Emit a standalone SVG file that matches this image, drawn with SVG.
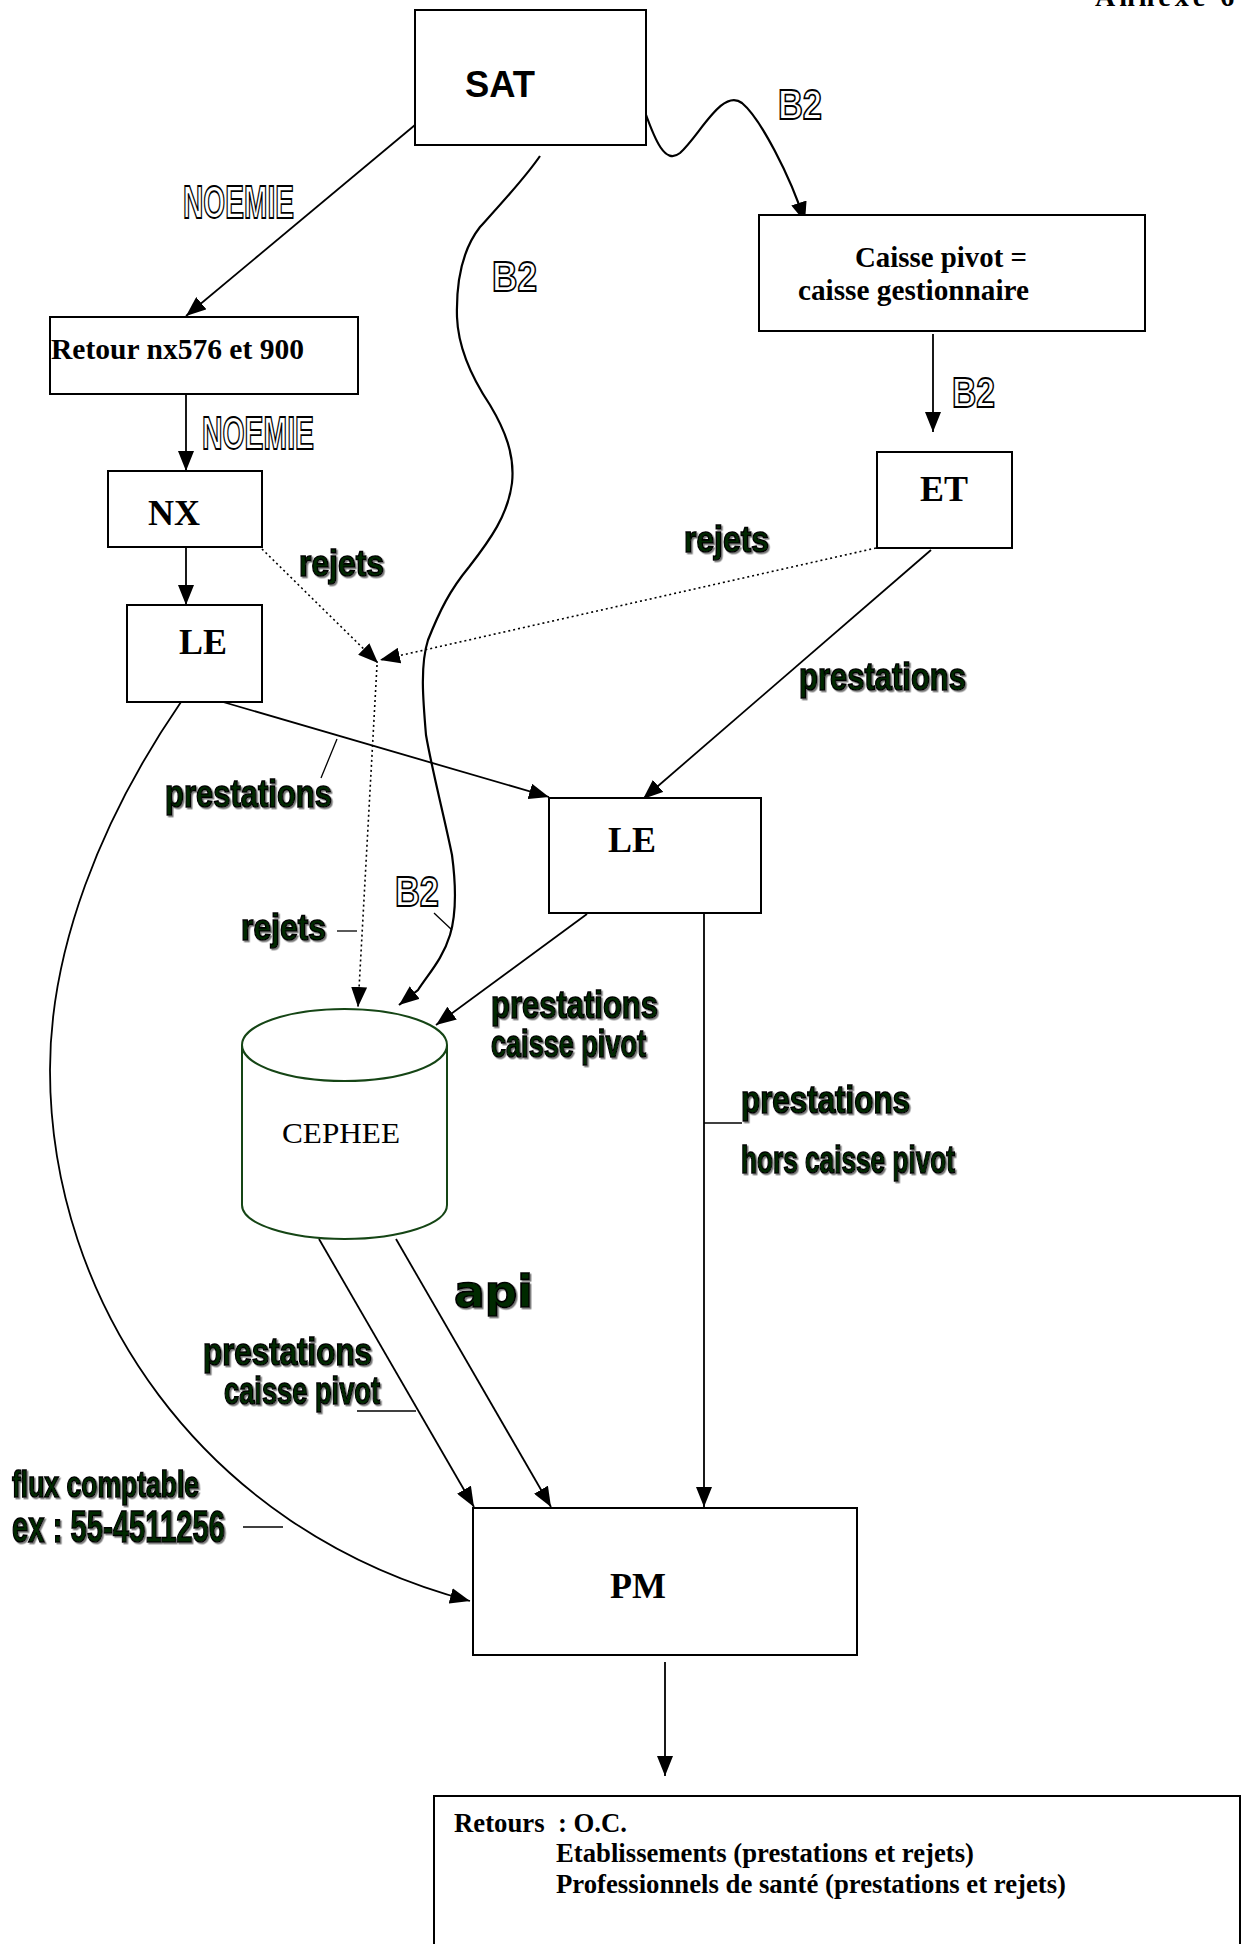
<svg xmlns="http://www.w3.org/2000/svg" width="1242" height="1944" viewBox="0 0 1242 1944">
<style>
.box{fill:#fff;stroke:#000;stroke-width:2}
.lbl{font-family:"Liberation Serif",serif;font-weight:bold;fill:#000}
.reg{font-family:"Liberation Serif",serif;fill:#000}
.out{font-family:"Liberation Sans",Arial,sans-serif;font-weight:bold;fill:#fff;stroke:#000;stroke-width:1.8}
.wa{font-family:"Liberation Sans",Arial,sans-serif;font-weight:bold;fill:#042a04;stroke:#000;stroke-width:1.6;filter:url(#sh)}
.ln{fill:none;stroke:#000;stroke-width:1.8}
.thin{fill:none;stroke:#000;stroke-width:1.3}
.dot{fill:none;stroke:#000;stroke-width:1.6;stroke-dasharray:2 3}
.wav{fill:none;stroke:#000;stroke-width:2.2}
</style>
<defs>
<marker id="ah" viewBox="0 0 20 16" refX="20" refY="8" markerWidth="20" markerHeight="16" markerUnits="userSpaceOnUse" orient="auto">
<path d="M0,0 L20,8 L0,16 z" fill="#000"/>
</marker>
<filter id="sh" x="-10%" y="-10%" width="130%" height="140%">
<feDropShadow dx="1.5" dy="1.5" stdDeviation="0.6" flood-color="#777"/>
</filter>
</defs>
<rect width="1242" height="1944" fill="#fff"/>

<text class="lbl" x="1095" y="6" font-size="28" letter-spacing="4">Annexe 6</text>

<g id="connectors">
<line class="ln" x1="415" y1="125" x2="186" y2="316" marker-end="url(#ah)"/>
<line class="ln" x1="186" y1="394" x2="186" y2="471" marker-end="url(#ah)"/>
<line class="ln" x1="186" y1="547" x2="186" y2="605" marker-end="url(#ah)"/>
<path class="wav" d="M645,112 C655,140 665,165 680,153 C700,135 722,88 742,103 C760,118 790,175 805,222" marker-end="url(#ah)"/>
<line class="ln" x1="933" y1="334" x2="933" y2="432" marker-end="url(#ah)"/>
<line class="dot" x1="262" y1="549" x2="378" y2="663" marker-end="url(#ah)"/>
<line class="dot" x1="876" y1="548" x2="380" y2="660" marker-end="url(#ah)"/>
<line class="dot" x1="377" y1="665" x2="358" y2="1007" marker-end="url(#ah)"/>
<line class="ln" x1="931" y1="550" x2="643" y2="799" marker-end="url(#ah)"/>
<line class="ln" x1="223" y1="702" x2="549" y2="797" marker-end="url(#ah)"/>
<path class="wav" d="M540,156 C525,178 500,205 480,227 C462,250 456,280 457,317 C458,345 470,375 490,405 C505,430 515,455 512,483 C508,515 490,540 469,567 C450,590 440,610 428,640 C420,665 423,700 426,735 C432,770 445,820 452,855 C456,885 456,915 450,935 C443,958 430,972 418,990 L399,1005" marker-end="url(#ah)"/>
<line class="ln" x1="587" y1="914" x2="436" y2="1025" marker-end="url(#ah)"/>
<line class="ln" x1="704" y1="913" x2="704" y2="1507" marker-end="url(#ah)"/>
<line class="ln" x1="319" y1="1239" x2="474" y2="1507" marker-end="url(#ah)"/>
<line class="ln" x1="396" y1="1239" x2="551" y2="1507" marker-end="url(#ah)"/>
<path class="ln" d="M181,702 C100,820 50,950 50,1070 C50,1300 200,1530 470,1601" marker-end="url(#ah)"/>
<line class="ln" x1="665" y1="1662" x2="665" y2="1776" marker-end="url(#ah)"/>
<line class="thin" x1="337" y1="739" x2="321" y2="778"/>
<line class="thin" x1="337" y1="931" x2="357" y2="931"/>
<line class="thin" x1="434" y1="913" x2="452" y2="930"/>
<line class="thin" x1="704" y1="1123" x2="742" y2="1123"/>
<line class="thin" x1="357" y1="1411" x2="416" y2="1411"/>
<line class="thin" x1="243" y1="1527" x2="283" y2="1527"/>
</g>

<g id="labels">
<text class="out" x="183" y="218" font-size="46" textLength="111" lengthAdjust="spacingAndGlyphs">NOEMIE</text>
<text class="out" x="202" y="449" font-size="46" textLength="112" lengthAdjust="spacingAndGlyphs">NOEMIE</text>
<text class="out" x="778" y="119" font-size="43" textLength="44" lengthAdjust="spacingAndGlyphs">B2</text>
<text class="out" x="492" y="291" font-size="43" textLength="45" lengthAdjust="spacingAndGlyphs">B2</text>
<text class="out" x="395" y="906" font-size="43" textLength="44" lengthAdjust="spacingAndGlyphs">B2</text>
<text class="out" x="952" y="407" font-size="43" textLength="43" lengthAdjust="spacingAndGlyphs">B2</text>
<text class="wa" x="299" y="576" font-size="37" textLength="85" lengthAdjust="spacingAndGlyphs">rejets</text>
<text class="wa" x="684" y="552" font-size="37" textLength="85" lengthAdjust="spacingAndGlyphs">rejets</text>
<text class="wa" x="241" y="940" font-size="37" textLength="85" lengthAdjust="spacingAndGlyphs">rejets</text>
<text class="wa" x="799" y="690" font-size="39" textLength="167" lengthAdjust="spacingAndGlyphs">prestations</text>
<text class="wa" x="165" y="807" font-size="39" textLength="167" lengthAdjust="spacingAndGlyphs">prestations</text>
<text class="wa" x="491" y="1018" font-size="39" textLength="167" lengthAdjust="spacingAndGlyphs">prestations</text>
<text class="wa" x="491" y="1057" font-size="39" textLength="155" lengthAdjust="spacingAndGlyphs">caisse pivot</text>
<text class="wa" x="741" y="1113" font-size="39" textLength="169" lengthAdjust="spacingAndGlyphs">prestations</text>
<text class="wa" x="741" y="1173" font-size="39" textLength="214" lengthAdjust="spacingAndGlyphs">hors caisse pivot</text>
<text class="wa" x="203" y="1365" font-size="39" textLength="169" lengthAdjust="spacingAndGlyphs">prestations</text>
<text class="wa" x="224" y="1404" font-size="39" textLength="156" lengthAdjust="spacingAndGlyphs">caisse pivot</text>
<text class="wa" x="454" y="1307" font-size="44" textLength="79" lengthAdjust="spacingAndGlyphs" style="font-family:'DejaVu Sans',sans-serif">api</text>
<text class="wa" x="12" y="1497" font-size="37" textLength="187" lengthAdjust="spacingAndGlyphs">flux comptable</text>
<text class="wa" x="12" y="1542" font-size="45" textLength="213" lengthAdjust="spacingAndGlyphs">ex : 55-4511256</text>
</g>

<g id="sat">
<rect class="box" x="415" y="10" width="231" height="135"/>
<text x="465" y="97" font-size="37" textLength="70" lengthAdjust="spacingAndGlyphs" style="font-family:'Liberation Sans',Arial,sans-serif;font-weight:bold">SAT</text>
</g>
<g id="retour">
<rect class="box" x="50" y="317" width="308" height="77"/>
<text class="lbl" x="51" y="359" font-size="30" textLength="253" lengthAdjust="spacingAndGlyphs">Retour nx576 et 900</text>
</g>
<g id="nx">
<rect class="box" x="108" y="471" width="154" height="76"/>
<text class="lbl" x="148" y="525" font-size="36">NX</text>
</g>
<g id="le1">
<rect class="box" x="127" y="605" width="135" height="97"/>
<text class="lbl" x="179" y="654" font-size="36">LE</text>
</g>
<g id="caisse">
<rect class="box" x="759" y="215" width="386" height="116"/>
<text class="lbl" x="855" y="267" font-size="29" textLength="172" lengthAdjust="spacingAndGlyphs">Caisse pivot =</text>
<text class="lbl" x="798" y="300" font-size="29" textLength="231" lengthAdjust="spacingAndGlyphs">caisse gestionnaire</text>
</g>
<g id="et">
<rect class="box" x="877" y="452" width="135" height="96"/>
<text class="lbl" x="920" y="501" font-size="36">ET</text>
</g>
<g id="le2">
<rect class="box" x="549" y="798" width="212" height="115"/>
<text class="lbl" x="608" y="852" font-size="36">LE</text>
</g>
<g id="cephee">
<path d="M242,1045 L242,1205 A102.5,34 0 0 0 447,1205 L447,1045" fill="#fff" stroke="#154515" stroke-width="2"/>
<ellipse cx="344.5" cy="1045" rx="102.5" ry="36" fill="#fff" stroke="#154515" stroke-width="2"/>
<text class="reg" x="282" y="1143" font-size="30" textLength="118" lengthAdjust="spacingAndGlyphs">CEPHEE</text>
</g>
<g id="pm">
<rect class="box" x="473" y="1508" width="384" height="147"/>
<text class="lbl" x="610" y="1598" font-size="36">PM</text>
</g>
<g id="retours">
<rect class="box" x="434" y="1796" width="806" height="170"/>
<text class="lbl" x="454" y="1832" font-size="27" textLength="173" lengthAdjust="spacingAndGlyphs" xml:space="preserve">Retours  : O.C.</text>
<text class="lbl" x="556" y="1862" font-size="27" textLength="418" lengthAdjust="spacingAndGlyphs">Etablissements (prestations et rejets)</text>
<text class="lbl" x="556" y="1893" font-size="27" textLength="510" lengthAdjust="spacingAndGlyphs">Professionnels de santé (prestations et rejets)</text>
</g>
</svg>
